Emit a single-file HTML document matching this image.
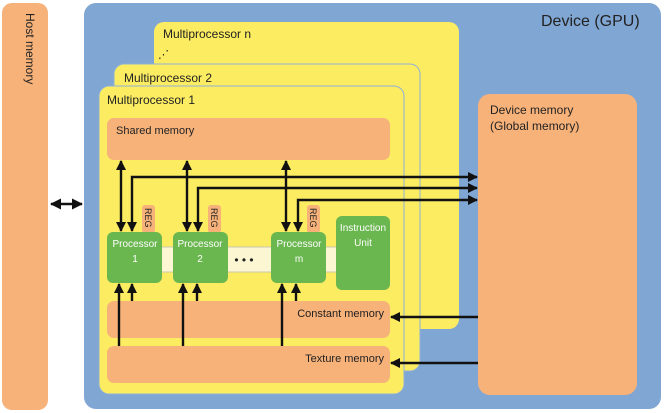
<!DOCTYPE html>
<html><head><style>body{margin:0;background:#fff}svg{display:block}text{font-family:"Liberation Sans",sans-serif;fill:#222}</style></head>
<body>
<svg width="664" height="413" viewBox="0 0 664 413" xmlns="http://www.w3.org/2000/svg">
<defs>
<marker id="a" markerWidth="10" markerHeight="10" refX="9" refY="5" orient="auto-start-reverse" markerUnits="userSpaceOnUse"><path d="M0,0 L10,5 L0,10 Z" fill="#111"/></marker>
<marker id="b" markerWidth="11" markerHeight="11" refX="10" refY="5.5" orient="auto-start-reverse" markerUnits="userSpaceOnUse"><path d="M0,0 L11,5.5 L0,11 Z" fill="#111"/></marker>
</defs>
<rect x="2" y="3" width="46" height="407" rx="10" fill="#f7b27a"/>
<text transform="translate(26,13) rotate(90)" font-size="12">Host memory</text>
<rect x="84" y="3" width="577" height="406" rx="12" fill="#80a6d3"/>
<text x="541" y="26" font-size="16">Device (GPU)</text>
<rect x="478" y="94" width="159" height="301" rx="12" fill="#f7b27a"/>
<text x="490" y="114" font-size="12">Device memory</text>
<text x="490" y="130" font-size="12">(Global memory)</text>
<rect x="154" y="22" width="305" height="307" rx="10" fill="#fbec62"/>
<text x="163" y="38" font-size="12">Multiprocessor n</text>
<text x="158" y="58" font-size="11">⋰</text>
<rect x="114" y="64" width="306" height="307" rx="10" fill="#fbec62" stroke="#8fb0d6" stroke-width="1"/>
<text x="124" y="82" font-size="12">Multiprocessor 2</text>
<rect x="99" y="86" width="305" height="308" rx="10" fill="#fbec62" stroke="#8fb0d6" stroke-width="1"/>
<text x="107" y="104" font-size="12">Multiprocessor 1</text>
<rect x="107" y="118" width="283" height="42" rx="7" fill="#f7b27a"/>
<text x="116" y="134" font-size="11">Shared memory</text>
<rect x="107" y="301" width="283" height="37" rx="7" fill="#f7b27a"/>
<text x="384" y="317" font-size="11" text-anchor="end">Constant memory</text>
<rect x="107" y="346" width="283" height="37" rx="7" fill="#f7b27a"/>
<text x="384" y="362" font-size="11" text-anchor="end">Texture memory</text>
<rect x="160" y="247" width="178" height="25" fill="#fcf6d2" stroke="#c9c9b0"/>
<text x="244" y="264" font-size="12" text-anchor="middle">• • •</text>
<g fill="#f7b27a"><rect x="142" y="205" width="13" height="28" rx="3"/><rect x="208" y="205" width="13" height="28" rx="3"/><rect x="307" y="205" width="13" height="28" rx="3"/></g>
<g font-size="9"><text transform="translate(145,208) rotate(90)">REG</text><text transform="translate(211,208) rotate(90)">REG</text><text transform="translate(310,208) rotate(90)">REG</text></g>
<g fill="#6ab64f"><rect x="107" y="232" width="55" height="51" rx="6"/><rect x="173" y="232" width="55" height="51" rx="6"/><rect x="271" y="232" width="55" height="51" rx="6"/><rect x="336" y="216" width="54" height="74" rx="6"/></g>
<g font-size="10" text-anchor="middle"><text x="135" y="247" style="fill:#fff">Processor</text><text x="135" y="262" style="fill:#fff">1</text><text x="200" y="247" style="fill:#fff">Processor</text><text x="200" y="262" style="fill:#fff">2</text><text x="299" y="247" style="fill:#fff">Processor</text><text x="299" y="262" style="fill:#fff">m</text><text x="363" y="231" style="fill:#fff">Instruction</text><text x="363" y="246" style="fill:#fff">Unit</text></g>
<g stroke="#111" stroke-width="2.4" fill="none">
<line x1="121" y1="161" x2="121" y2="231" marker-start="url(#a)" marker-end="url(#a)"/>
<line x1="187" y1="161" x2="187" y2="231" marker-start="url(#a)" marker-end="url(#a)"/>
<line x1="286" y1="161" x2="286" y2="231" marker-start="url(#a)" marker-end="url(#a)"/>
<polyline points="132,231 132,177 477,177" marker-start="url(#a)" marker-end="url(#a)"/>
<polyline points="198,231 198,188 477,188" marker-start="url(#a)" marker-end="url(#a)"/>
<polyline points="298,231 298,200 477,200" marker-start="url(#a)" marker-end="url(#a)"/>
<line x1="119" y1="346" x2="119" y2="284" marker-end="url(#a)"/>
<line x1="183" y1="346" x2="183" y2="284" marker-end="url(#a)"/>
<line x1="282" y1="346" x2="282" y2="284" marker-end="url(#a)"/>
<line x1="132" y1="301" x2="132" y2="284" marker-end="url(#a)"/>
<line x1="197" y1="301" x2="197" y2="284" marker-end="url(#a)"/>
<line x1="296" y1="301" x2="296" y2="284" marker-end="url(#a)"/>
<line x1="478" y1="317" x2="391" y2="317" marker-end="url(#a)"/>
<line x1="478" y1="363" x2="391" y2="363" marker-end="url(#a)"/>
<line x1="51" y1="204" x2="82" y2="204" marker-start="url(#b)" marker-end="url(#b)"/>
</g>
</svg>
</body></html>
